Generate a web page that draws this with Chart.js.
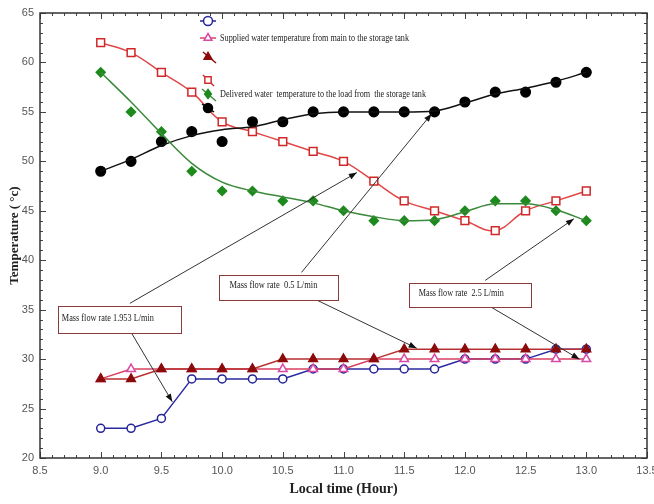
<!DOCTYPE html>
<html>
<head>
<meta charset="utf-8">
<script src="https://cdn.jsdelivr.net/npm/chart.js"></script>
<style>
    html, body { margin: 0; padding: 0; background: #fff; }
</style>
</head>
<body>
<canvas id="grafico" width="654" height="504"></canvas>
<script>
    // Horas do ensaio (eixo x)
    var hours = [9.0, 9.25, 9.5, 9.75, 10.0, 10.25, 10.5, 10.75, 11.0, 11.25, 11.5, 11.75, 12.0, 12.25, 12.5, 12.75, 13.0];

    // Temperatura da agua fornecida (rede -> tanque)
    var supplyBlue  = [23, 23, 24, 28, 28, 28, 28, 29, 29, 29, 29, 29, 30, 30, 30, 31, 31];
    var supplyPink  = [28, 29, 29, 29, 29, 29, 29, 29, 29, 30, 30, 30, 30, 30, 30, 30, 30];
    var supplyRed   = [28, 28, 29, 29, 29, 29, 30, 30, 30, 30, 31, 31, 31, 31, 31, 31, 31];

    // Temperatura da agua entregue (tanque -> carga)
    var deliveredRed   = [62, 61, 59, 57, 54, 53, 52, 51, 50, 48, 46, 45, 44, 43, 45, 46, 47];
    var deliveredGreen = [59, 55, 53, 49, 47, 47, 46, 46, 45, 44, 44, 44, 45, 46, 46, 45, 44];
    var greenFit       = [59, 56, 52.8, 49.8, 47.9, 47.0, 46.4, 45.8, 45.0, 44.4, 44.0, 44.1, 44.9, 45.7, 45.7, 45.1, 44];
    var deliveredBlack = [49, 50, 52, 53, 52, 54, 54, 55, 55, 55, 55, 55, 56, 57, 57, 58, 59];
    var blackFit       = [49, 50.2, 51.6, 52.6, 53.2, 53.5, 54.2, 54.8, 55.0, 55.0, 55.0, 55.1, 55.9, 56.8, 57.4, 58.1, 59];

    // Textos
    var legendLabels = ['', 'Supplied water temperature from main to the storage tank', '', '', 'Delivered water  temperature to the load from  the storage tank', ''];
    var flowLabels = ['Mass flow rate 1.953 L/min', 'Mass flow rate  0.5 L/min', 'Mass flow rate  2.5 L/min'];

    function pts(vals) {
        return hours.map(function(h, i) { return { x: h, y: vals[i] }; });
    }

    // Caixas de anotacao (em unidades do grafico)
    var caixas = [
        { box: [8.65, 35.34, 9.66, 32.58], tx: 8.68, ty: 34.13, w: 92,
          arrows: [[9.24, 35.64, 11.11, 48.86], [9.24, 32.92, 9.59, 25.68]] },
        { box: [9.976, 38.47, 10.955, 35.94], tx: 10.06, ty: 37.46, w: 88,
          arrows: [[10.654, 38.77, 11.726, 54.81], [10.665, 36.65, 11.603, 31.10]] },
        { box: [11.54, 37.69, 12.547, 35.27], tx: 11.62, ty: 36.68, w: 85,
          arrows: [[12.167, 37.96, 12.898, 44.19], [12.167, 35.61, 12.944, 29.99]] }
    ];

    function marcador(ctx, estilo, x, y, r, cor, preenchido) {
        ctx.save();
        ctx.strokeStyle = cor;
        ctx.fillStyle = preenchido ? cor : '#fff';
        ctx.lineWidth = 1.5;
        ctx.beginPath();
        if (estilo === 'circle') {
            ctx.arc(x, y, r, 0, Math.PI * 2);
        } else if (estilo === 'triangle') {
            ctx.moveTo(x, y - r);
            ctx.lineTo(x + r * 0.87, y + r * 0.5);
            ctx.lineTo(x - r * 0.87, y + r * 0.5);
            ctx.closePath();
        } else if (estilo === 'rect') {
            ctx.rect(x - r * 0.7, y - r * 0.7, r * 1.4, r * 1.4);
        } else if (estilo === 'rectRot') {
            ctx.moveTo(x, y - r);
            ctx.lineTo(x + r * 0.75, y);
            ctx.lineTo(x, y + r);
            ctx.lineTo(x - r * 0.75, y);
            ctx.closePath();
        }
        ctx.fill();
        ctx.stroke();
        ctx.restore();
    }

    var legendaPlugin = {
        id: 'legendaPlugin',
        afterDraw: function(chart) {
            var ctx = chart.ctx;
            var itens = [
                { e: 'circle', c: '#23239a', f: false, y: 21, l: [200, 21, 216, 21] },
                { e: 'triangle', c: '#d94aa8', f: false, y: 38, l: [200, 38, 216, 38], lc: '#d84060' },
                { e: 'triangle', c: '#8b0a0a', f: true, y: 57, l: [203, 52, 216, 63] },
                { e: 'rect', c: '#d03030', f: false, y: 80, l: [203, 75, 214, 86] },
                { e: 'rectRot', c: '#1d8a1d', f: true, y: 94, l: [202, 89, 216, 101], lc: '#3a8a3a' },
                { e: 'circle', c: '#000', f: true, y: 108, l: [202, 104, 214, 112] }
            ];
            itens.forEach(function(it, i) {
                ctx.save();
                ctx.strokeStyle = it.lc || it.c;
                ctx.lineWidth = 1.5;
                ctx.beginPath();
                ctx.moveTo(it.l[0], it.l[1]);
                ctx.lineTo(it.l[2], it.l[3]);
                ctx.stroke();
                ctx.restore();
                marcador(ctx, it.e, 208, it.y, 4.5, it.c, it.f);
                if (legendLabels[i]) {
                    ctx.save();
                    ctx.fillStyle = '#222';
                    ctx.font = '10.5px "Liberation Serif"';
                    ctx.textBaseline = 'middle';
                    var w = i === 1 ? 189 : 206;
                    ctx.fillText(legendLabels[i], 220, it.y, w);
                    ctx.restore();
                }
            });
        }
    };

    var molduraPlugin = {
        id: 'molduraPlugin',
        afterDatasetsDraw: function(chart) {
            var ctx = chart.ctx;
            var a = chart.chartArea;
            var sx = chart.scales.x, sy = chart.scales.y;
            ctx.save();
            ctx.strokeStyle = '#444';
            ctx.lineWidth = 1;
            ctx.beginPath();
            // marcas do eixo x (a cada 0.1 h)
            for (var k = 85; k <= 135; k++) {
                var px = Math.round(sx.getPixelForValue(k / 10)) + 0.5;
                var len = (k % 5 === 0) ? 6 : 3;
                ctx.moveTo(px, a.bottom); ctx.lineTo(px, a.bottom - len);
                ctx.moveTo(px, a.top); ctx.lineTo(px, a.top + len);
            }
            // marcas do eixo y (a cada 1 grau)
            for (var t = 20; t <= 65; t++) {
                var py = Math.round(sy.getPixelForValue(t)) + 0.5;
                var ln = (t % 5 === 0) ? 6 : 3;
                ctx.moveTo(a.left, py); ctx.lineTo(a.left + ln, py);
                ctx.moveTo(a.right, py); ctx.lineTo(a.right - ln, py);
            }
            ctx.stroke();
            ctx.lineWidth = 1.5;
            ctx.strokeStyle = '#333';
            ctx.strokeRect(a.left, a.top, a.right - a.left, a.bottom - a.top);

            // anotacoes de vazao
            caixas.forEach(function(cx, i) {
                var x1 = sx.getPixelForValue(cx.box[0]), y1 = sy.getPixelForValue(cx.box[1]);
                var x2 = sx.getPixelForValue(cx.box[2]), y2 = sy.getPixelForValue(cx.box[3]);
                cx.arrows.forEach(function(ar) {
                    var ax = sx.getPixelForValue(ar[0]), ay = sy.getPixelForValue(ar[1]);
                    var bx = sx.getPixelForValue(ar[2]), by = sy.getPixelForValue(ar[3]);
                    ctx.strokeStyle = '#333';
                    ctx.fillStyle = '#111';
                    ctx.lineWidth = 1;
                    ctx.beginPath();
                    ctx.moveTo(ax, ay); ctx.lineTo(bx, by);
                    ctx.stroke();
                    var ang = Math.atan2(by - ay, bx - ax);
                    ctx.beginPath();
                    ctx.moveTo(bx, by);
                    ctx.lineTo(bx - 8 * Math.cos(ang) + 3 * Math.sin(ang), by - 8 * Math.sin(ang) - 3 * Math.cos(ang));
                    ctx.lineTo(bx - 8 * Math.cos(ang) - 3 * Math.sin(ang), by - 8 * Math.sin(ang) + 3 * Math.cos(ang));
                    ctx.closePath();
                    ctx.fill();
                });
                ctx.fillStyle = '#fff';
                ctx.fillRect(x1, y1, x2 - x1, y2 - y1);
                ctx.strokeStyle = '#8b3a3a';
                ctx.lineWidth = 1;
                ctx.strokeRect(Math.round(x1) + 0.5, Math.round(y1) + 0.5, Math.round(x2 - x1), Math.round(y2 - y1));
                ctx.fillStyle = '#222';
                ctx.font = '10.5px "Liberation Serif"';
                ctx.textBaseline = 'middle';
                ctx.fillText(flowLabels[i], sx.getPixelForValue(cx.tx), sy.getPixelForValue(cx.ty), cx.w);
            });
            ctx.restore();
        }
    };

    function serie(vals, cor, extra) {
        var d = {
            data: pts(vals),
            borderColor: cor,
            backgroundColor: cor,
            borderWidth: 1.5,
            pointBorderWidth: 1.5,
            tension: 0
        };
        for (var k in extra) d[k] = extra[k];
        return d;
    }

    var ctx = document.getElementById('grafico').getContext('2d');
    new Chart(ctx, {
        type: 'line',
        data: {
            datasets: [
                serie(greenFit, '#3a8a3a', { pointRadius: 0, cubicInterpolationMode: 'monotone' }),
                serie(blackFit, '#111', { pointRadius: 0, cubicInterpolationMode: 'monotone' }),
                serie(deliveredRed, '#e04848', { tension: 0.4, pointStyle: 'rect', pointRadius: 5.5,
                    pointBackgroundColor: '#fff', pointBorderColor: '#d02828' }),
                serie(deliveredGreen, '#1d8a1d', { showLine: false, pointStyle: 'rectRot', pointRadius: 4.5 }),
                serie(deliveredBlack, '#000', { showLine: false, pointStyle: 'circle', pointRadius: 4.8 }),
                serie(supplyRed, '#b83030', { pointStyle: 'triangle', pointRadius: 5,
                    pointBackgroundColor: '#8b0a0a', pointBorderColor: '#8b0a0a' }),
                serie(supplyPink, '#d84060', { pointStyle: 'triangle', pointRadius: 5,
                    pointBackgroundColor: '#fff', pointBorderColor: '#d94aa8' }),
                serie(supplyBlue, '#2a2aa0', { pointStyle: 'circle', pointRadius: 4,
                    pointBackgroundColor: '#fff', pointBorderColor: '#23239a' })
            ]
        },
        options: {
            responsive: false,
            animation: false,
            layout: { padding: { top: 13, right: 7, left: 0, bottom: 0 } },
            plugins: { legend: { display: false }, tooltip: { enabled: false } },
            scales: {
                x: {
                    type: 'linear', min: 8.5, max: 13.5,
                    grid: { display: false, drawTicks: false },
                    border: { display: false },
                    ticks: { stepSize: 0.5, padding: 6, color: '#555',
                        font: { family: '"Liberation Sans Narrow", "Liberation Sans"', size: 11 },
                        callback: function(v) { return v.toFixed(1); } },
                    title: { display: true, text: 'Local time (Hour)', color: '#222',
                        font: { family: '"Liberation Serif"', size: 14, weight: 'bold' },
                        padding: { top: 0, bottom: 6 } },
                    afterFit: function(s) { s.height = 46; s.paddingLeft = 0; s.paddingRight = 0; }
                },
                y: {
                    min: 20, max: 65,
                    grid: { display: false, drawTicks: false },
                    border: { display: false },
                    ticks: { stepSize: 5, padding: 6, color: '#555',
                        font: { family: '"Liberation Sans Narrow", "Liberation Sans"', size: 11 } },
                    title: { display: true, text: 'Temperature ( °c)', color: '#222',
                        font: { family: '"Liberation Serif"', size: 13, weight: 'bold' },
                        padding: { top: 7, bottom: 0 } },
                    afterFit: function(s) { s.width = 40; s.paddingTop = 0; s.paddingBottom = 0; }
                }
            }
        },
        plugins: [molduraPlugin, legendaPlugin]
    });
</script>
</body>
</html>
